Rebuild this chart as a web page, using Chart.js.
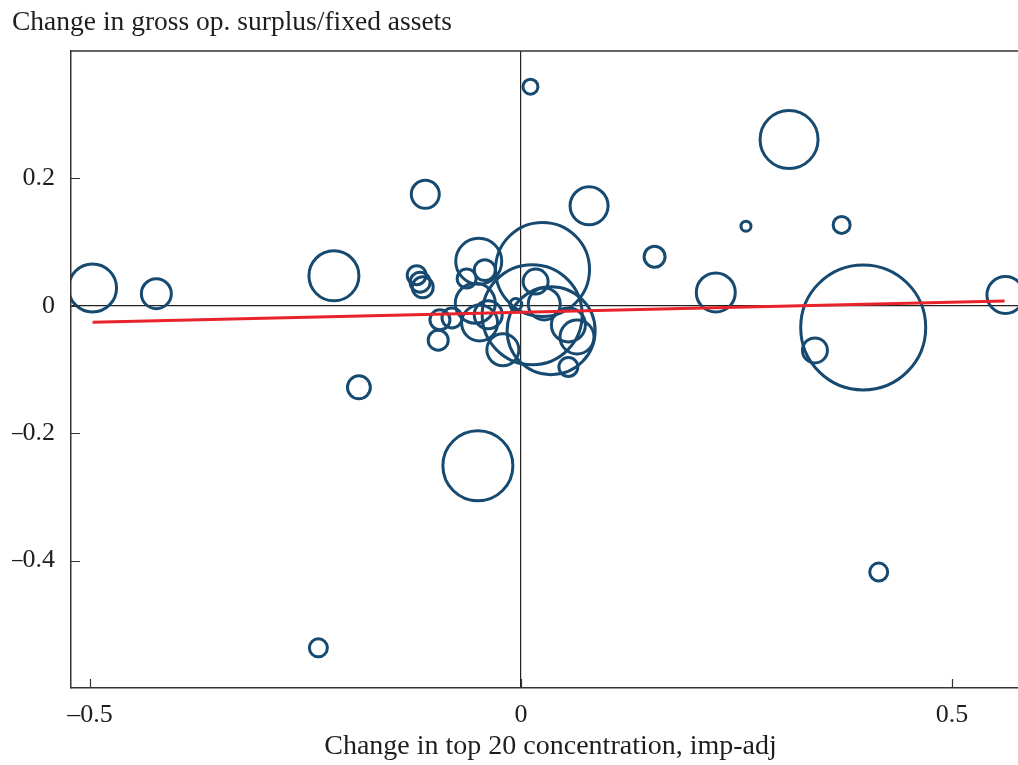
<!DOCTYPE html>
<html>
<head>
<meta charset="utf-8">
<title>Concentration and profitability</title>
<script src="https://cdn.jsdelivr.net/npm/chart.js@4.4.1/dist/chart.umd.min.js"></script>
<style>
  html, body { margin: 0; padding: 0; background: #ffffff; overflow: hidden; }
  #wrap { position: relative; width: 1030px; height: 765px; }
</style>
</head>
<body>
<div id="wrap"><canvas id="chart"></canvas></div>
<script>
// Industry observations: change in import-adjusted top-20 concentration (x),
// change in gross operating surplus / fixed assets (y), and industry weight.
const industryX = [
  -0.497, -0.423, -0.217, -0.188, -0.235, -0.111, -0.121, -0.117, -0.114,
  -0.049, -0.042, -0.063, -0.053, -0.048, -0.094, -0.080, -0.096, -0.038,
  -0.021, 0.025, 0.013, 0.035, 0.017, 0.027, 0.055, 0.065, 0.055, -0.006,
  0.011, 0.079, 0.155, -0.050, 0.311, 0.261, 0.372, 0.226, 0.397, 0.341,
  0.562, 0.415
];
const industryY = [
  0.028, 0.019, 0.047, -0.128, -0.537, 0.175, 0.048, 0.037, 0.029,
  0.070, 0.056, 0.043, 0.004, -0.027, -0.022, -0.019, -0.054, -0.014,
  -0.069, 0.057, -0.014, -0.039, 0.038, 0.003, -0.030, -0.049, -0.096, 0.002,
  0.344, 0.157, 0.077, -0.251, 0.261, 0.125, 0.127, 0.021, -0.034, -0.070,
  0.017, -0.418
];
const industryWeight = [
  5.76, 2.25, 6.25, 1.32, 0.81, 1.96, 0.90, 1.00, 1.10,
  5.29, 1.10, 0.90, 4.00, 3.24, 1.00, 1.00, 1.00, 1.96,
  2.56, 22.09, 25.00, 19.36, 1.56, 2.56, 2.89, 2.89, 0.90, 0.36,
  0.56, 3.61, 1.10, 12.25, 8.41, 0.25, 0.72, 3.80, 39.06, 1.56,
  3.42, 0.81
];

// Weighted linear fit, evaluated at the ends of the data range.
const fitX = [-0.497, 0.561];
const fitY = [-0.026, 0.0075];

const xTicks = [-0.5, 0, 0.5];
const yTicks = [-0.4, -0.2, 0, 0.2];

const titleText = 'Change in gross op. surplus/fixed assets';
const xTitleText = 'Change in top 20 concentration, imp-adj';

const SERIF = "'Liberation Serif', 'DejaVu Serif', serif";
const INK = '#1e1e1e';
const FRAME = '#333333';
const BUBBLE = '#164a70';
const FIT = '#e8232b';

const bubbles = industryX.map((x, i) => ({
  x: x, y: industryY[i], r: 10 * Math.sqrt(industryWeight[i])
}));
const fitPoints = fitX.map((x, i) => ({ x: x, y: fitY[i] }));

const fmt = v => (v < 0 ? '\u2013' + String(Math.abs(v)) : String(v));

// Frame top edge and inward-pointing tick marks.
const frameTicks = {
  id: 'frameTicks',
  afterDraw(chart) {
    const { ctx, chartArea: a, scales } = chart;
    ctx.save();
    ctx.strokeStyle = FRAME;
    ctx.lineWidth = 1.5;
    ctx.beginPath();
    ctx.moveTo(a.left, a.top);
    ctx.lineTo(a.right, a.top);
    ctx.stroke();
    ctx.lineWidth = 1.2;
    ctx.beginPath();
    yTicks.forEach(v => {
      const py = Math.round(scales.y.getPixelForValue(v)) + 0.5;
      ctx.moveTo(a.left, py);
      ctx.lineTo(a.left + 9, py);
    });
    xTicks.forEach(v => {
      const px = Math.round(scales.x.getPixelForValue(v)) + 0.5;
      ctx.moveTo(px, a.bottom);
      ctx.lineTo(px, a.bottom - 9);
    });
    ctx.stroke();
    ctx.restore();
  }
};

const zeroLine = c => (c.tick && c.tick.value === 0 ? '#222222' : 'rgba(0,0,0,0)');

new Chart(document.getElementById('chart'), {
  type: 'bubble',
  data: {
    datasets: [
      {
        type: 'line',
        data: fitPoints,
        borderColor: FIT,
        borderWidth: 3,
        pointRadius: 0,
        fill: false,
        order: 0
      },
      {
        type: 'bubble',
        data: bubbles,
        backgroundColor: 'rgba(255,255,255,0)',
        borderColor: BUBBLE,
        borderWidth: 3,
        hoverBorderWidth: 3,
        order: 1
      }
    ]
  },
  options: {
    responsive: true,
    maintainAspectRatio: false,
    animation: false,
    events: [],
    layout: { autoPadding: false, padding: { left: 12, top: 0, right: 0, bottom: 0 } },
    plugins: {
      legend: { display: false },
      tooltip: { enabled: false },
      title: {
        display: true,
        text: titleText,
        align: 'start',
        color: INK,
        font: { family: SERIF, size: 27.5, weight: 'normal' },
        padding: { top: 6, bottom: 12 }
      }
    },
    scales: {
      x: {
        type: 'linear',
        min: -0.522,
        max: 0.5905,
        afterBuildTicks: s => { s.ticks = xTicks.map(v => ({ value: v })); },
        afterFit: s => { s.height = 77; },
        ticks: {
          callback: fmt,
          color: INK,
          font: { family: SERIF, size: 26 },
          padding: 12,
          autoSkip: false,
          maxRotation: 0
        },
        grid: { display: true, drawTicks: false, color: zeroLine, lineWidth: 1.2 },
        border: { display: true, color: FRAME, width: 1.5 },
        title: {
          display: true,
          text: xTitleText,
          color: INK,
          font: { family: SERIF, size: 28 },
          padding: { top: 0, bottom: 2 }
        }
      },
      y: {
        type: 'linear',
        min: -0.6,
        max: 0.4,
        afterBuildTicks: s => { s.ticks = yTicks.map(v => ({ value: v })); },
        afterFit: s => { s.width = 59; },
        ticks: {
          callback: fmt,
          color: INK,
          font: { family: SERIF, size: 26 },
          padding: 16,
          autoSkip: false
        },
        grid: { display: true, drawTicks: false, color: zeroLine, lineWidth: 1.2 },
        border: { display: true, color: FRAME, width: 1.5 }
      }
    }
  },
  plugins: [frameTicks]
});
</script>
</body>
</html>
